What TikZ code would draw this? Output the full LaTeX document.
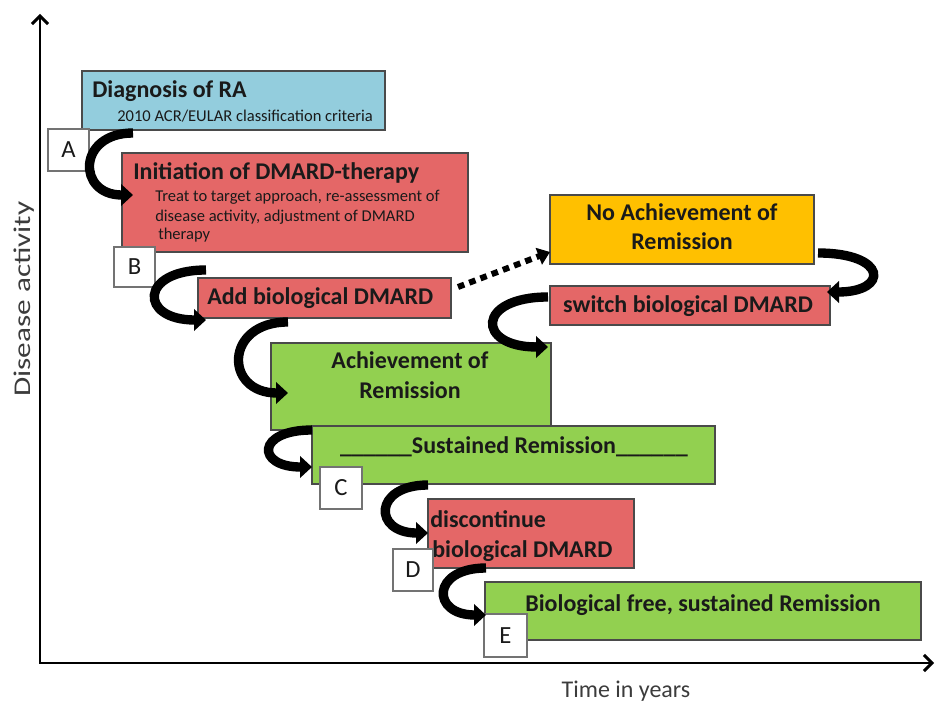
\documentclass[tikz,border=0pt]{standalone}
\usepackage{fontspec}
\setmainfont{Carlito}
\usetikzlibrary{arrows.meta,fit}
\definecolor{bluebox}{HTML}{93CDDD}
\definecolor{redbox}{HTML}{E46767}
\definecolor{orangebox}{HTML}{FFC000}
\definecolor{greenbox}{HTML}{92D050}
\definecolor{edge}{HTML}{4A4A4A}
\definecolor{ink}{HTML}{1A1A1A}
\begin{document}
\begin{tikzpicture}[x=0.75pt,y=-0.75pt,
  box/.style={draw=edge, line width=0.8pt, inner sep=0pt},
  letterbox/.style={draw=black!55, fill=white, line width=0.8pt, inner sep=0pt},
  lett/.style={font=\fontsize{18.5}{20}\selectfont, text=ink, inner sep=0pt},
  ttl/.style={font=\fontsize{18}{21}\selectfont\bfseries, text=ink, inner sep=0pt},
  sub/.style={font=\fontsize{12.4}{14.5}\selectfont, text=ink, inner sep=0pt},
  axlab/.style={font=\fontsize{18}{21}\selectfont, text=ink!85, inner sep=0pt},
  curv/.style={line width=7pt, -{Triangle[length=9pt,width=16pt]}},
  axis/.style={line width=2.2pt, line join=miter}
]
\useasboundingbox (0,0) rectangle (935,702);

% axes
\coordinate (ytop) at (40,14);
\coordinate (orig) at (40,663);
\coordinate (xend) at (934,663);
\draw[axis, {Straight Barb[length=6pt,width=12pt]}-{Straight Barb[length=6pt,width=12pt]}] (ytop) -- (orig) -- (xend);
\node[axlab, anchor=base] (xl) at (626,697) {Time in years};
\node[axlab, rotate=90, anchor=base] (yl) at (31,299) {\scalebox{1.3}[1]{Disease activity}};

% boxes
\node[box, fill=bluebox, fit={(82,71) (385,130)}] (diag) {};
\node[ttl, anchor=base west] (t1) at (92,98) {Diagnosis of RA};
\node[sub, anchor=base west] (s1) at (117,122) {2010 ACR/EULAR classification criteria};

\node[box, fill=redbox, fit={(122,153) (468,252)}] (init) {};
\node[ttl, anchor=base west] (t2) at (133,180) {Initiation of DMARD-therapy};
\node[sub, anchor=base west] (s2a) at (155,202) {Treat to target approach, re-assessment of};
\node[sub, anchor=base west] (s2b) at (155,221.5) {disease activity, adjustment of DMARD};
\node[sub, anchor=base west] (s2c) at (158,240) {therapy};

\node[box, fill=redbox, fit={(198,278) (451,318)}] (add) {};
\node[ttl, anchor=base west] (t3) at (207,305) {Add biological DMARD};

\node[box, fill=orangebox, fit={(550,195) (814,264)}] (noach) {};
\node[ttl, anchor=base] (t4a) at (682,221) {No Achievement of};
\node[ttl, anchor=base] (t4b) at (682,250) {Remission};

\node[box, fill=redbox, fit={(550,286) (830,325)}] (switch) {};
\node[ttl, anchor=base] (t5) at (688,312) {switch biological DMARD};

\node[box, fill=greenbox, fit={(271,343) (551,430)}] (ach) {};
\node[ttl, anchor=base] (t6a) at (410,368) {Achievement of};
\node[ttl, anchor=base] (t6b) at (410,398) {Remission};

\node[box, fill=greenbox, fit={(312,426) (715,484)}] (sus) {};
\node[ttl, anchor=base] (t7) at (514,453) {\_\_\_\_\_\_Sustained Remission\_\_\_\_\_\_};

\node[box, fill=redbox, fit={(428,499) (634,568)}] (disc) {};
\node[ttl, anchor=base west] (t8a) at (430,527) {discontinue};
\node[ttl, anchor=base west] (t8b) at (432,557) {biological DMARD};

\node[box, fill=greenbox, fit={(485,582) (921,640)}] (free) {};
\node[ttl, anchor=base] (t9) at (703,611) {Biological free, sustained Remission};

% letter boxes
\node[letterbox, fit={(48,129) (89,171)}] (A) {};
\node[lett] (Atxt) at (A.center) {A};
\node[letterbox, fit={(114,247) (155,287)}] (B) {};
\node[lett] (Btxt) at (B.center) {B};
\node[letterbox, fit={(320,467) (362,509)}] (C) {};
\node[lett] (Ctxt) at (C.center) {C};
\node[letterbox, fit={(393,549) (433,591)}] (D) {};
\node[lett] (Dtxt) at (D.center) {D};
\node[letterbox, fit={(484,614) (527,657)}] (E) {};
\node[lett] (Etxt) at (E.center) {E};

% curved arrows
\coordinate (a1) at (133,133); \coordinate (a2) at (133,195);
\draw[curv] (a1) .. controls +(-56,0) and +(-56,0) .. (a2);
\coordinate (b1) at (206,270); \coordinate (b2) at (206,320);
\draw[curv] (b1) .. controls +(-67,0) and +(-67,0) .. (b2);
\coordinate (c1) at (288,322); \coordinate (c2) at (288,393);
\draw[curv] (c1) .. controls +(-64,0) and +(-64,0) .. (c2);
\coordinate (d1) at (312,430); \coordinate (d2) at (312,467);
\draw[curv] (d1) .. controls +(-56,0) and +(-56,0) .. (d2);
\coordinate (e1) at (428,485); \coordinate (e2) at (428,533);
\draw[curv] (e1) .. controls +(-55,0) and +(-55,0) .. (e2);
\coordinate (f1) at (486,568); \coordinate (f2) at (486,615);
\draw[curv] (f1) .. controls +(-55,0) and +(-55,0) .. (f2);
\coordinate (g1) at (548,297); \coordinate (g2) at (548,347);
\draw[curv] (g1) .. controls +(-72,0) and +(-72,0) .. (g2);
\coordinate (h1) at (818,253); \coordinate (h2) at (827,292);
\draw[curv] (h1) .. controls +(70,0) and +(62,0) .. (h2);

% dotted arrow
\coordinate (p1) at (458,287); \coordinate (p2) at (550,252);
\draw[line width=4.5pt, dash pattern=on 5pt off 4pt, -{Triangle[length=9pt,width=13pt]}] (p1) -- (p2);
\end{tikzpicture}
\end{document}
